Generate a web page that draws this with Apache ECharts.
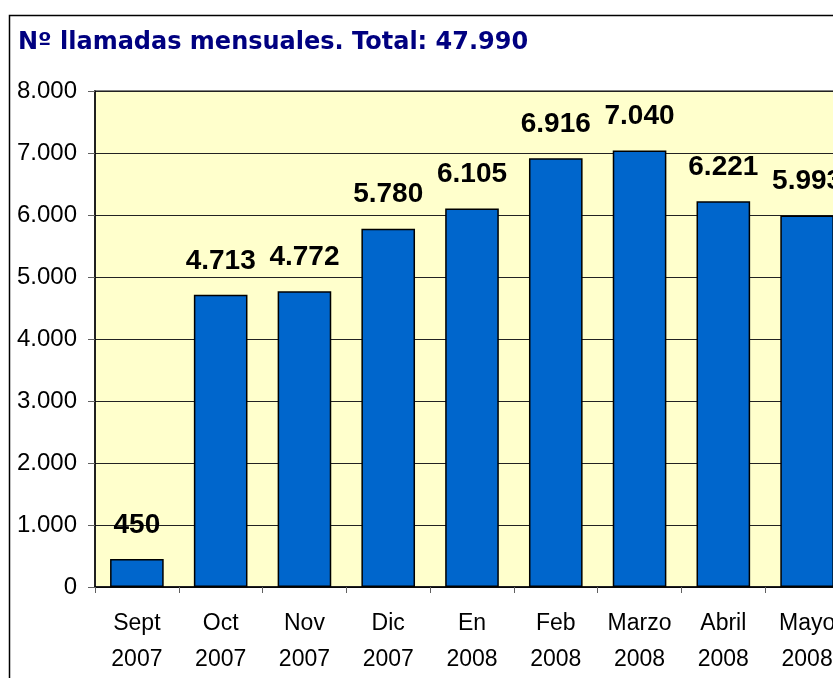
<!DOCTYPE html>
<html>
<head>
<meta charset="utf-8">
<script src="https://cdn.jsdelivr.net/npm/echarts@6/dist/echarts.min.js"></script>
<style>
html,body{margin:0;padding:0;background:#fff;overflow:hidden;width:833px;height:678px;}
#c{width:900px;height:678px;}
</style>
</head>
<body>
<div id="c"></div>
<script>
var titleText = 'Nº llamadas mensuales. Total: 47.990';
var categories = ['Sept\n2007','Oct\n2007','Nov\n2007','Dic\n2007','En\n2008','Feb\n2008','Marzo\n2008','Abril\n2008','Mayo\n2008'];
var values = [450, 4713, 4772, 5780, 6105, 6916, 7040, 6221, 5993];
var yMin = 0, yMax = 8000, yStep = 1000;

function fmt(v){
  var s = String(Math.round(v));
  return s.replace(/\B(?=(\d{3})+(?!\d))/g, '.');
}

var chart = echarts.init(document.getElementById('c'), null, {renderer:'canvas'});
chart.setOption({
  animation:false,
  backgroundColor:'#ffffff',
  title:{
    text:titleText, left:13, top:26,
    textStyle:{fontFamily:'DejaVu Sans, sans-serif', fontWeight:'bold', fontSize:24, color:'#000080'}
  },
  graphic:[{
    type:'rect', shape:{x:9.5,y:15.5,width:1000,height:1000},
    style:{fill:null, stroke:'#000', lineWidth:1.5}, z:-1
  }],
  grid:{
    left:95, right:51, top:91, bottom:91,
    show:true, backgroundColor:'#FFFFCC', borderColor:'#808080', borderWidth:2
  },
  xAxis:{
    type:'category', data:categories, boundaryGap:true,
    axisLine:{show:true, lineStyle:{color:'#000', width:1.5}},
    axisTick:{show:true, alignWithLabel:false, length:6, lineStyle:{color:'#606060', width:1}},
    axisLabel:{interval:0, margin:19, fontFamily:'Liberation Sans, Arial, sans-serif', fontSize:23, lineHeight:36, color:'#000'},
    splitLine:{show:false}
  },
  yAxis:{
    type:'value', min:yMin, max:yMax, interval:yStep,
    axisLine:{show:true, lineStyle:{color:'#000', width:1.5}},
    axisTick:{show:true, length:7, lineStyle:{color:'#606060', width:1}},
    axisLabel:{margin:18, fontFamily:'Liberation Sans, Arial, sans-serif', fontSize:24, color:'#000', formatter:fmt},
    splitLine:{show:true, lineStyle:{color:'#222', width:1}}
  },
  series:[{
    type:'bar', data:values, barCategoryGap:'36%',
    itemStyle:{color:'#0066CC', borderColor:'#000', borderWidth:1.5},
    label:{show:true, position:'top', distance:20, formatter:function(p){return fmt(p.value);},
      fontFamily:'Liberation Sans, Arial, sans-serif', fontWeight:'bold', fontSize:28, color:'#000'}
  }]
});
</script>
</body>
</html>
